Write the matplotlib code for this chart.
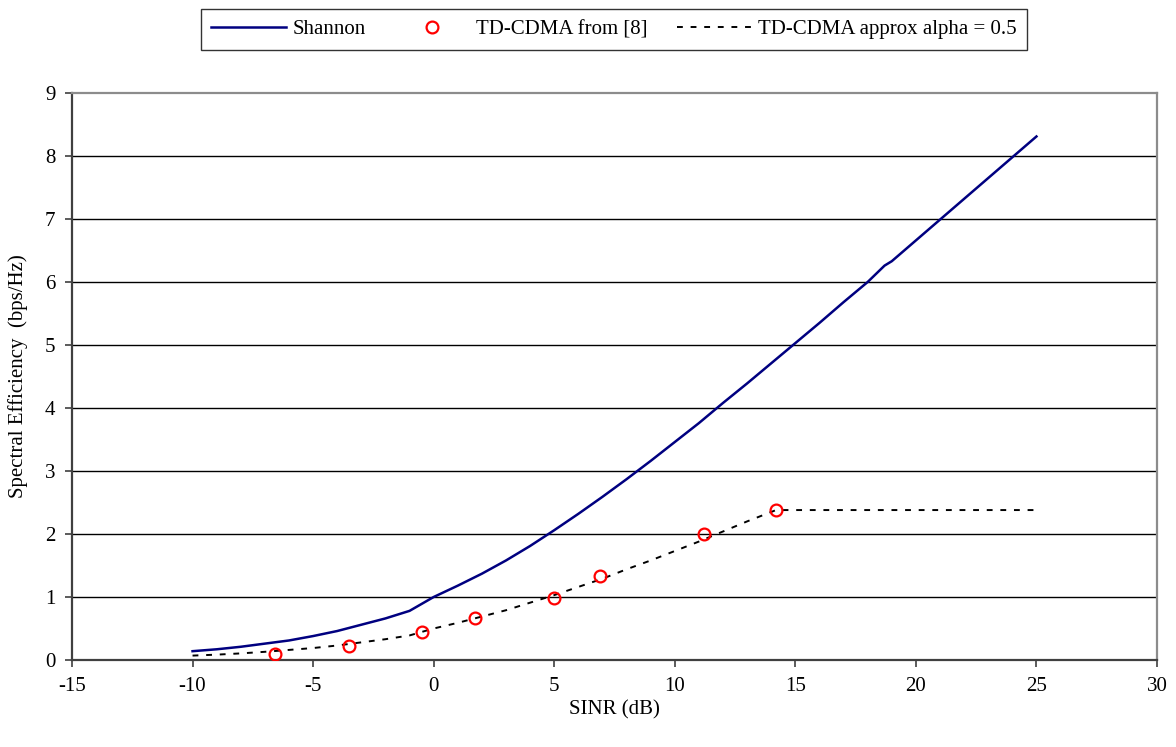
import matplotlib
matplotlib.use("Agg")
import matplotlib.pyplot as plt

# Shannon curve
shannon_x = [-10, -9, -8, -7, -6, -5, -4, -3, -2, -1, 0, 1, 2, 3, 4, 5, 6, 7, 8, 9,
             10, 11, 12, 13, 14, 15, 16, 17, 18, 18.7, 19, 20, 21, 22, 23, 24, 25]
shannon_y = [0.14, 0.17, 0.21, 0.26, 0.31, 0.38, 0.46, 0.56, 0.66, 0.78, 1.00, 1.18,
             1.37, 1.58, 1.81, 2.06, 2.32, 2.59, 2.87, 3.16, 3.46, 3.76, 4.08, 4.39,
             4.71, 5.03, 5.35, 5.68, 6.00, 6.26, 6.33, 6.66, 6.99, 7.32, 7.65, 7.98, 8.31]

# TD-CDMA measured points from [8]
tdcdma_x = [-6.6, -3.5, -0.5, 1.7, 5.0, 6.9, 11.2, 14.2]
tdcdma_y = [0.10, 0.23, 0.45, 0.67, 0.99, 1.33, 2.00, 2.38]

# TD-CDMA approximation, alpha = 0.5
approx_x = [-10, -9, -8, -7, -6, -5, -4, -3, -2, -1, 0, 1, 2, 3, 4, 5, 6, 7, 8, 9,
            10, 11, 12, 13, 14, 14.2, 25]
approx_y = [0.07, 0.085, 0.105, 0.13, 0.16, 0.19, 0.23, 0.28, 0.33, 0.39, 0.50, 0.59,
            0.69, 0.79, 0.91, 1.03, 1.16, 1.29, 1.44, 1.58, 1.73, 1.88, 2.04, 2.20,
            2.35, 2.38, 2.38]

x_ticks = [-15, -10, -5, 0, 5, 10, 15, 20, 25, 30]
y_ticks = [0, 1, 2, 3, 4, 5, 6, 7, 8, 9]

plt.rcParams['font.family'] = ['Liberation Serif', 'DejaVu Serif']

fig = plt.figure(figsize=(11.76, 7.47), dpi=100)
ax = fig.add_axes([72 / 1176, 1 - 660 / 747, (1157 - 72) / 1176, (660 - 93) / 747])

for yv in y_ticks[1:-1]:
    ax.axhline(yv, color='black', lw=1.0, zorder=1)

l1, = ax.plot(shannon_x, shannon_y, color='#000080', lw=1.8, label='Shannon', zorder=3)
l2, = ax.plot(tdcdma_x, tdcdma_y, linestyle='none', marker='o', markersize=8.5,
              markerfacecolor='none', markeredgecolor='#ff0000', markeredgewidth=1.6,
              label='TD-CDMA from [8]', zorder=4)
l3, = ax.plot(approx_x, approx_y, color='black', lw=1.4, linestyle=(0, (3, 4)),
              label='TD-CDMA approx alpha = 0.5', zorder=2)

ax.set_xlim(-15, 30)
ax.set_ylim(0, 9)
ax.set_xticks(x_ticks)
ax.set_yticks(y_ticks)
ax.set_xticklabels([str(v) for v in x_ticks])
ax.set_yticklabels([str(v) for v in y_ticks])
ax.tick_params(direction='out', length=5, width=1.2, color='#404040', labelsize=15, pad=7)

for side in ['left', 'bottom']:
    ax.spines[side].set_color('#404040')
    ax.spines[side].set_linewidth(1.6)
for side in ['top', 'right']:
    ax.spines[side].set_color('#8c8c8c')
    ax.spines[side].set_linewidth(1.6)

ax.set_xlabel('SINR (dB)', fontsize=15, labelpad=3)
ax.set_ylabel('Spectral Efficiency  (bps/Hz)', fontsize=15, labelpad=12)

leg = fig.legend(handles=[l1, l2, l3], loc='center', bbox_to_anchor=(0.522, 0.9605),
                 ncol=3, fontsize=15, frameon=True, fancybox=False, edgecolor='black',
                 handlelength=3.6, columnspacing=1.4, handletextpad=0.3, borderpad=0.5)
leg.get_frame().set_linewidth(1.0)

fig.savefig('out.png', dpi=100)
